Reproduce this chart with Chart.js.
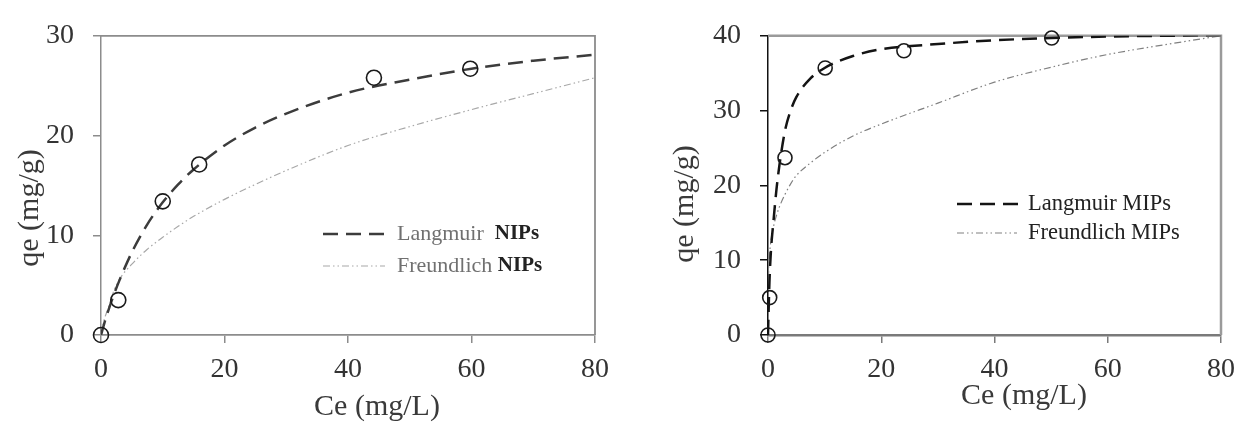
<!DOCTYPE html>
<html lang="en">
<head>
  <meta charset="UTF-8" />
  <title>Langmuir / Freundlich isotherms - NIPs and MIPs</title>
  <script src="https://cdn.jsdelivr.net/npm/chart.js"></script>
  <style>
    html, body { margin: 0; padding: 0; background: #fff; }
    body { width: 1245px; height: 425px; position: relative; overflow: hidden; }
    .panel { position: absolute; top: 0; height: 425px; }
    #nipsWrap { left: 0; width: 620px; }
    #mipsWrap { left: 620px; width: 625px; }
  </style>
</head>
<body>
  <div class="panel" id="nipsWrap"><canvas id="nips" width="620" height="425"></canvas></div>
  <div class="panel" id="mipsWrap"><canvas id="mips" width="625" height="425"></canvas></div>

  <script>
    // axis ticks
    const ceTicks = [0, 20, 40, 60, 80];
    const nipsQeTicks = [0, 10, 20, 30];
    const mipsQeTicks = [0, 10, 20, 30, 40];

    // NIPs - measured points
    const nipsCe = [0, 2.8, 10, 15.9, 44.2, 59.8];
    const nipsQe = [0, 3.5, 13.4, 17.1, 25.8, 26.7];
    // NIPs - fitted curves
    const nipsFitCe      = [0, 0.5, 1, 2, 3, 5, 7.5, 10, 12.5, 15, 20, 25, 30, 40, 50, 60, 70, 80];
    const nipsLangmuir   = [0, 1.1, 2.1, 3.9, 5.5, 8.3, 11.1, 13.3, 15.1, 16.6, 19.0, 20.8, 22.2, 24.3, 25.6, 26.7, 27.5, 28.1];
    const nipsFreundlich = [0, 1.5, 2.4, 4.3, 5.6, 7.1, 8.6, 9.8, 10.9, 11.9, 13.6, 15.1, 16.5, 19.0, 20.9, 22.6, 24.2, 25.8];

    // MIPs - measured points
    const mipsCe = [0, 0.3, 3, 10.1, 24, 50.1];
    const mipsQe = [0, 5.0, 23.7, 35.7, 38.0, 39.7];
    // MIPs - fitted curves
    const mipsFitCe      = [0, 0.1, 0.25, 0.5, 1, 1.5, 2, 3, 4, 5, 7.5, 10, 15, 20, 30, 40, 50, 60, 70, 80];
    const mipsLangmuir   = [0, 3.0, 7.0, 11.0, 15.5, 19.5, 22.6, 27.3, 30.0, 31.8, 34.3, 35.7, 37.3, 38.2, 38.9, 39.4, 39.7, 39.9, 40.0, 40.1];
    const mipsFreundlich = [0, 8.0, 10.5, 12.5, 14.6, 16.0, 17.1, 18.8, 20.2, 21.3, 23.0, 24.4, 26.6, 28.2, 31.0, 33.8, 35.8, 37.5, 38.8, 40.0];

    const SERIF = "'Liberation Serif', 'DejaVu Serif', serif";
    const pts = (xs, ys) => xs.map((x, i) => ({ x: x, y: ys[i] }));

    // frame, axis titles and the in-plot legend
    const decor = {
      id: 'decor',
      beforeDatasetsDraw(chart, args, o) {
        const ctx = chart.ctx, a = chart.chartArea;
        ctx.save();
        ctx.strokeStyle = o.frameColor;
        ctx.lineWidth = o.frameWidth;
        ctx.beginPath();
        ctx.moveTo(a.left, a.top);
        ctx.lineTo(a.right, a.top);
        ctx.lineTo(a.right, a.bottom);
        ctx.stroke();
        ctx.restore();
      },
      afterDraw(chart, args, o) {
        const ctx = chart.ctx;
        ctx.save();
        ctx.fillStyle = o.titleColor;
        ctx.font = '30px ' + SERIF;
        ctx.textAlign = 'center';
        ctx.textBaseline = 'middle';
        ctx.fillText(o.xTitle.text, o.xTitle.x, o.xTitle.y);
        ctx.translate(o.yTitle.x, o.yTitle.y);
        ctx.rotate(-Math.PI / 2);
        ctx.fillText(o.yTitle.text, 0, 0);
        ctx.restore();

        o.legend.forEach(item => {
          const ds = chart.data.datasets[item.dataset];
          ctx.save();
          ctx.strokeStyle = ds.borderColor;
          ctx.lineWidth = ds.borderWidth;
          ctx.setLineDash(ds.borderDash || []);
          ctx.beginPath();
          ctx.moveTo(item.x0, item.y);
          ctx.lineTo(item.x1, item.y);
          ctx.stroke();
          ctx.setLineDash([]);
          ctx.textAlign = 'left';
          ctx.textBaseline = 'middle';
          let x = item.tx;
          item.parts.forEach(p => {
            ctx.font = p.font;
            ctx.fillStyle = p.color;
            ctx.fillText(p.text, x, item.y);
            x += ctx.measureText(p.text).width;
          });
          ctx.restore();
        });
      }
    };

    function makeChart(id, cfg) {
      return new Chart(document.getElementById(id), {
        type: 'line',
        data: {
          datasets: [
            {
              type: 'scatter',
              data: pts(cfg.ce, cfg.qe),
              showLine: false,
              pointStyle: 'circle',
              pointRadius: cfg.radius,
              pointBorderWidth: 1.6,
              pointBorderColor: '#1a1a1a',
              pointBackgroundColor: 'rgba(0,0,0,0)',
              clip: false
            },
            {
              data: pts(cfg.fitCe, cfg.langmuir),
              borderColor: cfg.langColor,
              borderWidth: 2.5,
              borderDash: [15, 8],
              pointRadius: 0,
              cubicInterpolationMode: 'monotone',
              fill: false
            },
            {
              data: pts(cfg.fitCe, cfg.freundlich),
              borderColor: cfg.freuColor,
              borderWidth: 1.2,
              borderDash: [7, 3, 1.5, 3, 1.5, 3],
              pointRadius: 0,
              cubicInterpolationMode: 'monotone',
              fill: false
            }
          ]
        },
        options: {
          responsive: false,
          animation: false,
          events: [],
          layout: { padding: { left: 0, top: cfg.top, right: cfg.right, bottom: 0 } },
          plugins: {
            legend: { display: false },
            tooltip: { enabled: false },
            decor: {
              frameColor: cfg.frameColor,
              frameWidth: cfg.frameWidth,
              titleColor: '#3a3a3a',
              xTitle: cfg.xTitle,
              yTitle: cfg.yTitle,
              legend: cfg.legend
            }
          },
          scales: {
            x: {
              type: 'linear',
              min: 0,
              max: 80,
              afterBuildTicks: s => { s.ticks = ceTicks.map(v => ({ value: v })); },
              afterFit: s => { s.height = 90; },
              grid: { drawOnChartArea: false, drawTicks: true, tickLength: 8, color: cfg.xAxisColor, lineWidth: 1.5 },
              border: { color: cfg.xAxisColor, width: cfg.frameWidth },
              ticks: { font: { family: SERIF, size: 28 }, color: '#333', padding: 10, maxRotation: 0 }
            },
            y: {
              type: 'linear',
              min: 0,
              max: cfg.yMax,
              afterBuildTicks: s => { s.ticks = cfg.yTicks.map(v => ({ value: v })); },
              afterFit: s => { s.width = cfg.yWidth; },
              grid: { drawOnChartArea: false, drawTicks: true, tickLength: 8, color: cfg.yAxisColor, lineWidth: 1.5 },
              border: { color: cfg.yAxisColor, width: 1.5 },
              ticks: { font: { family: SERIF, size: 28 }, color: '#333', padding: 19 }
            }
          }
        },
        plugins: [decor]
      });
    }

    makeChart('nips', {
      ce: nipsCe, qe: nipsQe, fitCe: nipsFitCe,
      langmuir: nipsLangmuir, freundlich: nipsFreundlich,
      yMax: 30, yTicks: nipsQeTicks,
      radius: 7.5,
      langColor: '#3c3c3c', freuColor: '#a8a8a8',
      frameColor: '#8c8c8c', frameWidth: 1.8,
      xAxisColor: '#8c8c8c', yAxisColor: '#8c8c8c',
      top: 31, right: 25, yWidth: 101,
      xTitle: { text: 'Ce (mg/L)', x: 377, y: 407 },
      yTitle: { text: 'qe (mg/g)', x: 30, y: 208 },
      legend: [
        { dataset: 1, x0: 323, x1: 388, y: 234, tx: 397,
          parts: [{ text: 'Langmuir  ', font: '22px ' + SERIF, color: '#707070' },
                  { text: 'NIPs', font: 'bold 21px ' + SERIF, color: '#222' }] },
        { dataset: 2, x0: 323, x1: 385, y: 266, tx: 397,
          parts: [{ text: 'Freundlich ', font: '22px ' + SERIF, color: '#707070' },
                  { text: 'NIPs', font: 'bold 21px ' + SERIF, color: '#222' }] }
      ]
    });

    makeChart('mips', {
      ce: mipsCe, qe: mipsQe, fitCe: mipsFitCe,
      langmuir: mipsLangmuir, freundlich: mipsFreundlich,
      yMax: 40, yTicks: mipsQeTicks,
      radius: 7,
      langColor: '#141414', freuColor: '#808080',
      frameColor: '#9a9a9a', frameWidth: 2.5,
      xAxisColor: '#7a7a7a', yAxisColor: '#111',
      top: 28, right: 16, yWidth: 148,
      xTitle: { text: 'Ce (mg/L)', x: 404, y: 396 },
      yTitle: { text: 'qe (mg/g)', x: 65, y: 204 },
      legend: [
        { dataset: 1, x0: 337, x1: 402, y: 204, tx: 408,
          parts: [{ text: 'Langmuir MIPs', font: '22.5px ' + SERIF, color: '#222' }] },
        { dataset: 2, x0: 337, x1: 397, y: 233, tx: 408,
          parts: [{ text: 'Freundlich MIPs', font: '22.5px ' + SERIF, color: '#222' }] }
      ]
    });
  </script>
</body>
</html>
